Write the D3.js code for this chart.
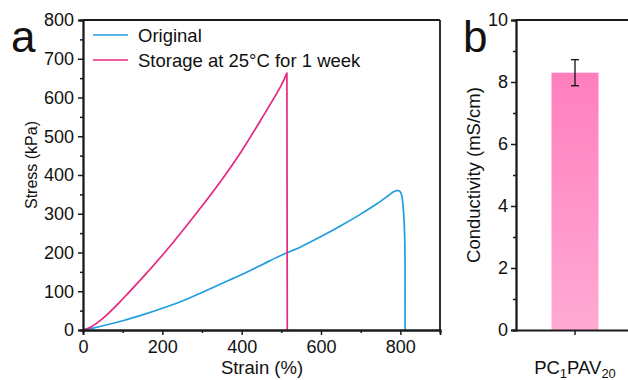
<!DOCTYPE html>
<html><head><meta charset="utf-8">
<script src="https://cdn.jsdelivr.net/npm/d3@7"></script>
<style>
body{margin:0;background:#fff;}
svg text{font-family:Arial,"Liberation Sans",Helvetica,sans-serif;fill:#111;}
</style></head>
<body><svg id="c" width="628" height="380"></svg>
<script>
// ---- Data ----
const originalStrain = [0,25,50,100,150,200,250,300,350,400,450,500,550,600,650,700,740,770,782,792,799,804,807,809,811,812,812];
const originalStress = [0,5,11,24,39,56,75,97,120,143,168,193,215,241,269,299,325,347,356,360,358,345,320,290,240,160,0];
const storageStrain = [0,20,50,100,150,200,250,300,350,400,450,500,514,515];
const storageStress = [0,8,30,80,135,193,255,320,388,462,545,632,663,0];
const seriesNames = ["Original","Storage at 25\u00B0C for 1 week"];
const seriesColors = ["#1f9de2","#e6287f"];
const xTicksA = [0,200,400,600,800];
const xMinorA = [100,300,500,700,900];
const yTicksA = [0,100,200,300,400,500,600,700,800];
const yMinorA = [50,150,250,350,450,550,650,750];
const barCategories = ["PC1PAV20"];
const barValues = [8.3];
const barErrors = [0.42];
const yTicksB = [0,2,4,6,8,10];
const yMinorB = [1,3,5,7,9];

const svg = d3.select("#c");
const axisColor = "#1a1a1a";

function styleAxis(g){
  g.select(".domain").attr("stroke",axisColor).attr("stroke-width",1.8);
  g.selectAll(".tick line").attr("stroke",axisColor).attr("stroke-width",1.5);
  g.selectAll(".tick text").attr("font-size","18px").attr("fill","#111");
}

// ---- Panel a ----
const A = {l:83,r:440,t:20,b:330};
const xA = d3.scaleLinear().domain([0,900]).range([A.l,A.r]);
const yA = d3.scaleLinear().domain([0,800]).range([A.b,A.t]);

svg.append("line").attr("x1",A.l).attr("x2",A.r).attr("y1",A.t).attr("y2",A.t).attr("stroke",axisColor).attr("stroke-width",1.8);
svg.append("line").attr("x1",A.r).attr("x2",A.r).attr("y1",A.t).attr("y2",A.b).attr("stroke",axisColor).attr("stroke-width",1.8);

const line = d3.line().x(d=>xA(d[0])).y(d=>yA(d[1])).curve(d3.curveCatmullRom.alpha(0.5));
const dataA = [d3.zip(originalStrain,originalStress), d3.zip(storageStrain,storageStress)];
dataA.forEach((d,i)=>{
  const pk = d3.maxIndex(d, p=>p[1]);
  const pathD = line(d.slice(0,pk+1)) + line(d.slice(pk)).replace(/^M[^CL]*/, "");
  svg.append("path").attr("d",pathD).attr("fill","none")
    .attr("stroke",seriesColors[i]).attr("stroke-width",1.7).attr("stroke-linejoin","round");
});

svg.append("g").attr("transform",`translate(0,${A.b})`)
  .call(d3.axisBottom(xA).tickValues(xMinorA).tickSize(3).tickFormat(""))
  .call(styleAxis);
svg.append("g").attr("transform",`translate(0,${A.b})`)
  .call(d3.axisBottom(xA).tickValues(xTicksA).tickSize(5).tickPadding(5))
  .call(styleAxis);
svg.append("g").attr("transform",`translate(${A.l},0)`)
  .call(d3.axisLeft(yA).tickValues(yMinorA).tickSize(3).tickFormat(""))
  .call(styleAxis);
svg.append("g").attr("transform",`translate(${A.l},0)`)
  .call(d3.axisLeft(yA).tickValues(yTicksA).tickSize(5).tickPadding(4))
  .call(styleAxis);

svg.append("text").attr("x",262).attr("y",374).attr("text-anchor","middle")
  .attr("font-size","18.5px").text("Strain (%)");
svg.append("text").attr("transform",`translate(37,165) rotate(-90)`)
  .attr("text-anchor","middle").attr("font-size","16px").text("Stress (kPa)");
svg.append("text").attr("x",11).attr("y",52).attr("font-size","44px").text("a");

// legend
seriesNames.forEach((n,i)=>{
  const y = 35 + i*25;
  svg.append("line").attr("x1",93).attr("x2",128).attr("y1",y).attr("y2",y)
    .attr("stroke",seriesColors[i]).attr("stroke-width",1.7);
  svg.append("text").attr("x",138).attr("y",y+7).attr("font-size","18.5px").text(n);
});

// ---- Panel b ----
const B = {l:516,r:634,t:20,b:330};
const xB = d3.scaleBand().domain(barCategories).range([B.l,B.r]).paddingInner(0.43).paddingOuter(0.43);
const yB = d3.scaleLinear().domain([0,10]).range([B.b,B.t]);

const defs = svg.append("defs");
const grad = defs.append("linearGradient").attr("id","barg").attr("x1",0).attr("x2",0).attr("y1",0).attr("y2",1);
grad.append("stop").attr("offset","0%").attr("stop-color","#ff7ebd");
grad.append("stop").attr("offset","100%").attr("stop-color","#ffaad4");

svg.selectAll("rect.bar").data(barValues).enter().append("rect").attr("class","bar")
  .attr("x",(d,i)=>xB(barCategories[i])).attr("width",xB.bandwidth())
  .attr("y",d=>yB(d)).attr("height",d=>B.b-yB(d)).attr("fill","url(#barg)");

barValues.forEach((v,i)=>{
  const cx = xB(barCategories[i])+xB.bandwidth()/2;
  const g = svg.append("g").attr("stroke","#111").attr("stroke-width",1.3);
  g.append("line").attr("x1",cx).attr("x2",cx).attr("y1",yB(v+barErrors[i])).attr("y2",yB(v-barErrors[i]));
  g.append("line").attr("x1",cx-4).attr("x2",cx+4).attr("y1",yB(v+barErrors[i])).attr("y2",yB(v+barErrors[i]));
  g.append("line").attr("x1",cx-4).attr("x2",cx+4).attr("y1",yB(v-barErrors[i])).attr("y2",yB(v-barErrors[i]));
});

svg.append("line").attr("x1",B.l).attr("x2",B.r).attr("y1",B.t).attr("y2",B.t).attr("stroke",axisColor).attr("stroke-width",1.8);
svg.append("line").attr("x1",B.r).attr("x2",B.r).attr("y1",B.t).attr("y2",B.b).attr("stroke",axisColor).attr("stroke-width",1.8);

svg.append("g").attr("transform",`translate(0,${B.b})`)
  .call(d3.axisBottom(xB).tickSize(5).tickSizeOuter(0).tickFormat(""))
  .call(styleAxis);
svg.append("g").attr("transform",`translate(${B.l},0)`)
  .call(d3.axisLeft(yB).tickValues(yMinorB).tickSize(3).tickFormat(""))
  .call(styleAxis);
svg.append("g").attr("transform",`translate(${B.l},0)`)
  .call(d3.axisLeft(yB).tickValues(yTicksB).tickSize(5).tickPadding(3))
  .call(styleAxis);

barCategories.forEach((c,i)=>{
  const cx = xB(c)+xB.bandwidth()/2;
  const t = svg.append("text").attr("x",cx).attr("y",374).attr("text-anchor","middle").attr("font-size","18.5px");
  t.append("tspan").text("PC");
  t.append("tspan").attr("font-size","13px").attr("dy",4).text("1");
  t.append("tspan").attr("dy",-4).text("PAV");
  t.append("tspan").attr("font-size","13px").attr("dy",4).text("20");
});

svg.append("text").attr("transform",`translate(480,175) rotate(-90)`)
  .attr("text-anchor","middle").attr("font-size","18.5px").text("Conductivity (mS/cm)");
svg.append("text").attr("x",463).attr("y",52).attr("font-size","44px").text("b");
</script></body></html>
